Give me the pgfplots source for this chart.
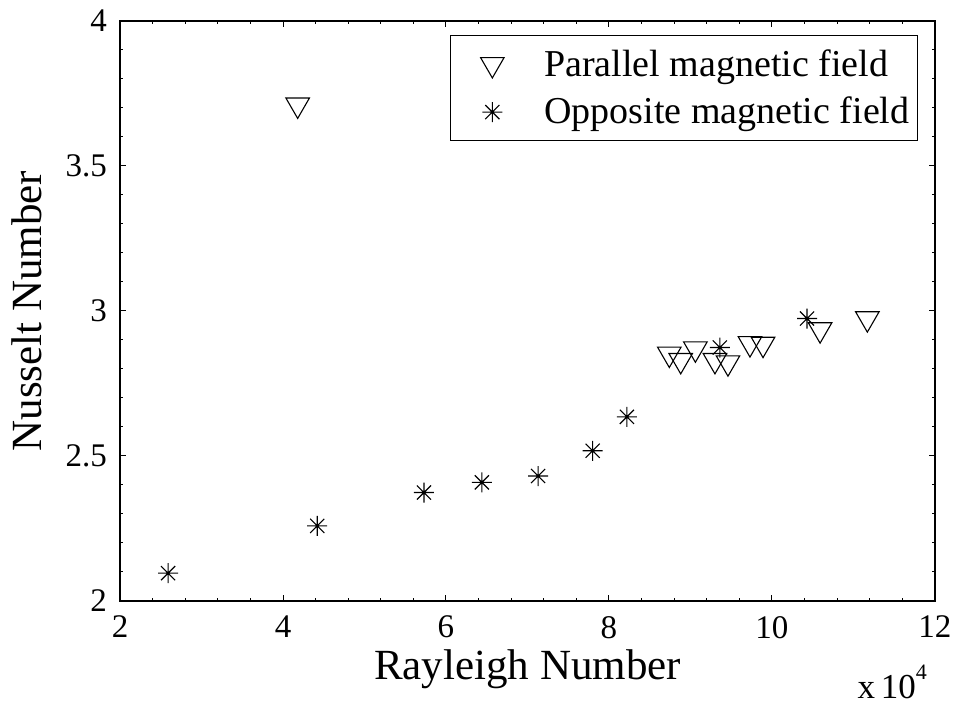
\documentclass[border=0pt]{standalone}
\usepackage{fontspec}
\setmainfont{Liberation Serif}
\usepackage{pgfplots}
\pgfplotsset{compat=1.18}

% eight-ray asterisk: a plus and a cross on top of each other
\pgfdeclareplotmark{mstar}{%
  \pgfpathmoveto{\pgfqpoint{-\pgfplotmarksize}{0pt}}%
  \pgfpathlineto{\pgfqpoint{\pgfplotmarksize}{0pt}}%
  \pgfpathmoveto{\pgfqpoint{0pt}{-\pgfplotmarksize}}%
  \pgfpathlineto{\pgfqpoint{0pt}{\pgfplotmarksize}}%
  \pgfpathmoveto{\pgfqpoint{-0.707\pgfplotmarksize}{-0.707\pgfplotmarksize}}%
  \pgfpathlineto{\pgfqpoint{0.707\pgfplotmarksize}{0.707\pgfplotmarksize}}%
  \pgfpathmoveto{\pgfqpoint{-0.707\pgfplotmarksize}{0.707\pgfplotmarksize}}%
  \pgfpathlineto{\pgfqpoint{0.707\pgfplotmarksize}{-0.707\pgfplotmarksize}}%
  \pgfusepathqstroke}

\begin{document}
\begin{tikzpicture}
\begin{axis}[
  scale only axis,
  width=407.5pt, height=290pt,
  xmin=2, xmax=12, ymin=2, ymax=4,
  xtick={2,4,...,12}, ytick={2,2.5,...,4},
  minor x tick num=4, minor y tick num=4,
  tick align=inside,
  major tick length=3pt, minor tick length=1.6pt,
  axis line style={line width=0.6pt},
  every tick/.style={black, line width=0.5pt},
  /pgf/number format/assume math mode=true,
  /pgf/number format/fixed,
  /pgf/number format/precision=1,
  tick label style={font=\fontsize{16.5}{18}\selectfont},
  xticklabel style={yshift=-4pt},
  yticklabel style={xshift=-3pt},
  xlabel={Rayleigh Number},
  ylabel={Nusselt Number},
  label style={font=\fontsize{21.5}{24}\selectfont},
  xlabel style={at={(axis description cs:0.5,-0.136)}, anchor=base},
  ylabel style={at={(axis description cs:-0.114,0.5)}, anchor=center},
  legend style={
    at={(axis description cs:0.9791,0.9759)}, anchor=north east,
    draw=black, line width=0.5pt,
    font=\fontsize{19}{21}\selectfont,
    row sep=5pt, inner xsep=2pt, inner ysep=5pt,
    cells={anchor=west},
  },
  legend image code/.code={%
    \draw[#1] plot coordinates {(0pt,0pt)};
    \path[draw=none] (-19pt,0pt) -- (24pt,0pt);
  },
  legend cell align=left,
  clip=false,
]

% parallel magnetic field
\addplot[only marks, mark=triangle, mark size=6.8pt,
  mark options={rotate=180, line width=0.55pt, draw=black, fill=none}]
coordinates {
  (4.18,3.711)
  (8.74,2.852) (8.88,2.830) (9.06,2.870) (9.30,2.830) (9.46,2.822)
  (9.73,2.888) (9.89,2.886) (10.59,2.936) (11.17,2.974)
};
\addlegendentry{Parallel magnetic field}

% opposite magnetic field
\addplot[only marks, mark=mstar, mark size=5pt,
  mark options={line width=0.55pt, draw=black}]
coordinates {
  (2.59,2.096) (4.42,2.259) (5.73,2.374) (6.44,2.409) (7.13,2.431)
  (7.80,2.518) (8.22,2.635) (9.36,2.874) (10.43,2.974)
};
\addlegendentry{Opposite magnetic field}

\node[anchor=base east, font=\fontsize{17.5}{19}\selectfont]
  at (axis description cs:1.0,-0.168) {x\,10$^{\raisebox{3pt}{\fontsize{11}{12}\selectfont 4}}$};

\coordinate (BL) at (axis description cs:-0.14724,-0.17759);
\coordinate (TR) at (axis description cs:1.02209,1.03621);
\end{axis}
\pgfresetboundingbox
\path (BL) rectangle (TR);
\end{tikzpicture}
\end{document}
